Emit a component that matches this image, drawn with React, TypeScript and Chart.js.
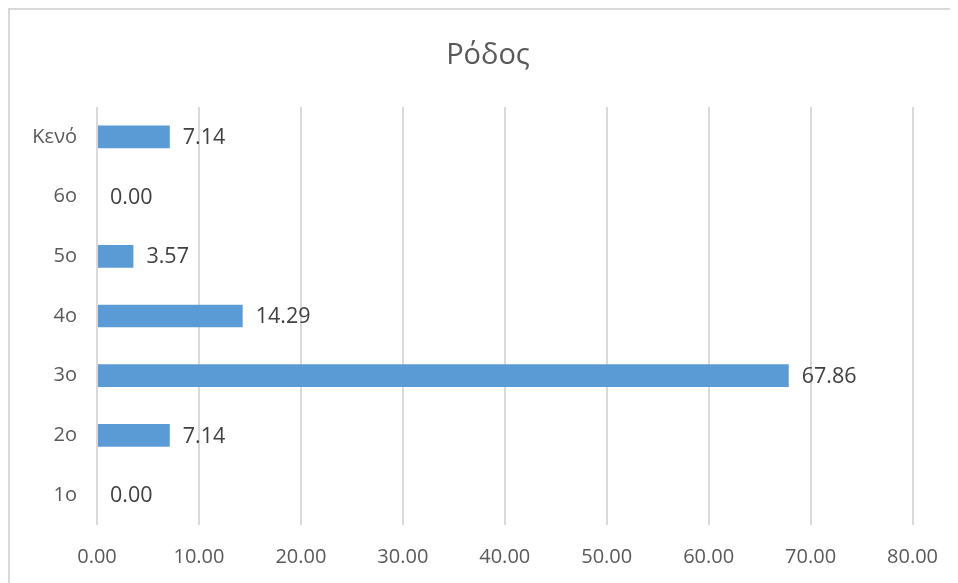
import React, { useEffect, useRef } from "react";
import { Chart, registerables } from "chart.js";

Chart.register(...registerables);

const categories = ["Κενό", "6ο", "5ο", "4ο", "3ο", "2ο", "1ο"];
const values = [7.14, 0.0, 3.57, 14.29, 67.86, 7.14, 0.0];
const chartTitle = "Ρόδος";
const xMin = 0;
const xMax = 80;
const xStep = 10;

const FONT = "'Open Sans', sans-serif";

const dataLabelPlugin = {
  id: "dataLabels",
  afterDatasetsDraw(chart: any) {
    const ctx = chart.ctx;
    const meta = chart.getDatasetMeta(0);
    ctx.save();
    ctx.font = `21.5px ${FONT}`;
    ctx.fillStyle = "#404040";
    ctx.textAlign = "left";
    ctx.textBaseline = "middle";
    meta.data.forEach((bar: any, i: number) => {
      const v = chart.data.datasets[0].data[i] as number;
      ctx.fillText(v.toFixed(2), bar.x + 13, bar.y + 1);
    });
    ctx.restore();
  },
};

const titlePlugin = {
  id: "centeredTitle",
  afterDraw(chart: any) {
    const ctx = chart.ctx;
    ctx.save();
    ctx.font = `29px ${FONT}`;
    ctx.fillStyle = "#595959";
    ctx.textAlign = "center";
    ctx.textBaseline = "middle";
    ctx.fillText(chartTitle, chart.width / 2 + 4, 46);
    ctx.restore();
  },
};

export default function App() {
  const ref = useRef<HTMLCanvasElement | null>(null);
  useEffect(() => {
    document.body.style.margin = "8px";
    document.body.style.overflow = "hidden";
    if (!ref.current) return;
    const chart = new Chart(ref.current, {
      type: "bar",
      data: {
        labels: categories,
        datasets: [
          {
            data: values,
            backgroundColor: "#5B9BD5",
            borderWidth: 0,
            categoryPercentage: 1,
            barPercentage: 0.38,
          },
        ],
      },
      options: {
        indexAxis: "y",
        animation: false,
        responsive: false,
        devicePixelRatio: 1,
        layout: { padding: { left: 0, right: 36, top: 97, bottom: 0 } },
        plugins: {
          legend: { display: false },
          tooltip: { enabled: false },
          title: { display: false },
        },
        scales: {
          x: {
            min: xMin,
            max: xMax,
            ticks: {
              stepSize: xStep,
              color: "#595959",
              font: { family: FONT, size: 20 },
              padding: 20,
              callback: (v: any) => Number(v).toFixed(2),
            },
            grid: { color: "#D9D9D9", lineWidth: 2, drawTicks: false },
            border: { display: false },
          },
          y: {
            ticks: {
              color: "#595959",
              font: { family: FONT, size: 20 },
              padding: 12,
            },
            grid: { display: false },
            border: { display: false },
            afterFit: (scale: any) => {
              scale.width = 87;
            },
          },
        },
      },
      plugins: [dataLabelPlugin, titlePlugin],
    });
    return () => chart.destroy();
  }, []);
  return (
    <div
      style={{
        width: 948,
        height: 579,
        borderTop: "2px solid #D9D9D9",
        borderLeft: "2px solid #D9D9D9",
        background: "#fff",
      }}
    >
      <canvas ref={ref} width={948} height={579} style={{ display: "block" }} />
    </div>
  );
}
